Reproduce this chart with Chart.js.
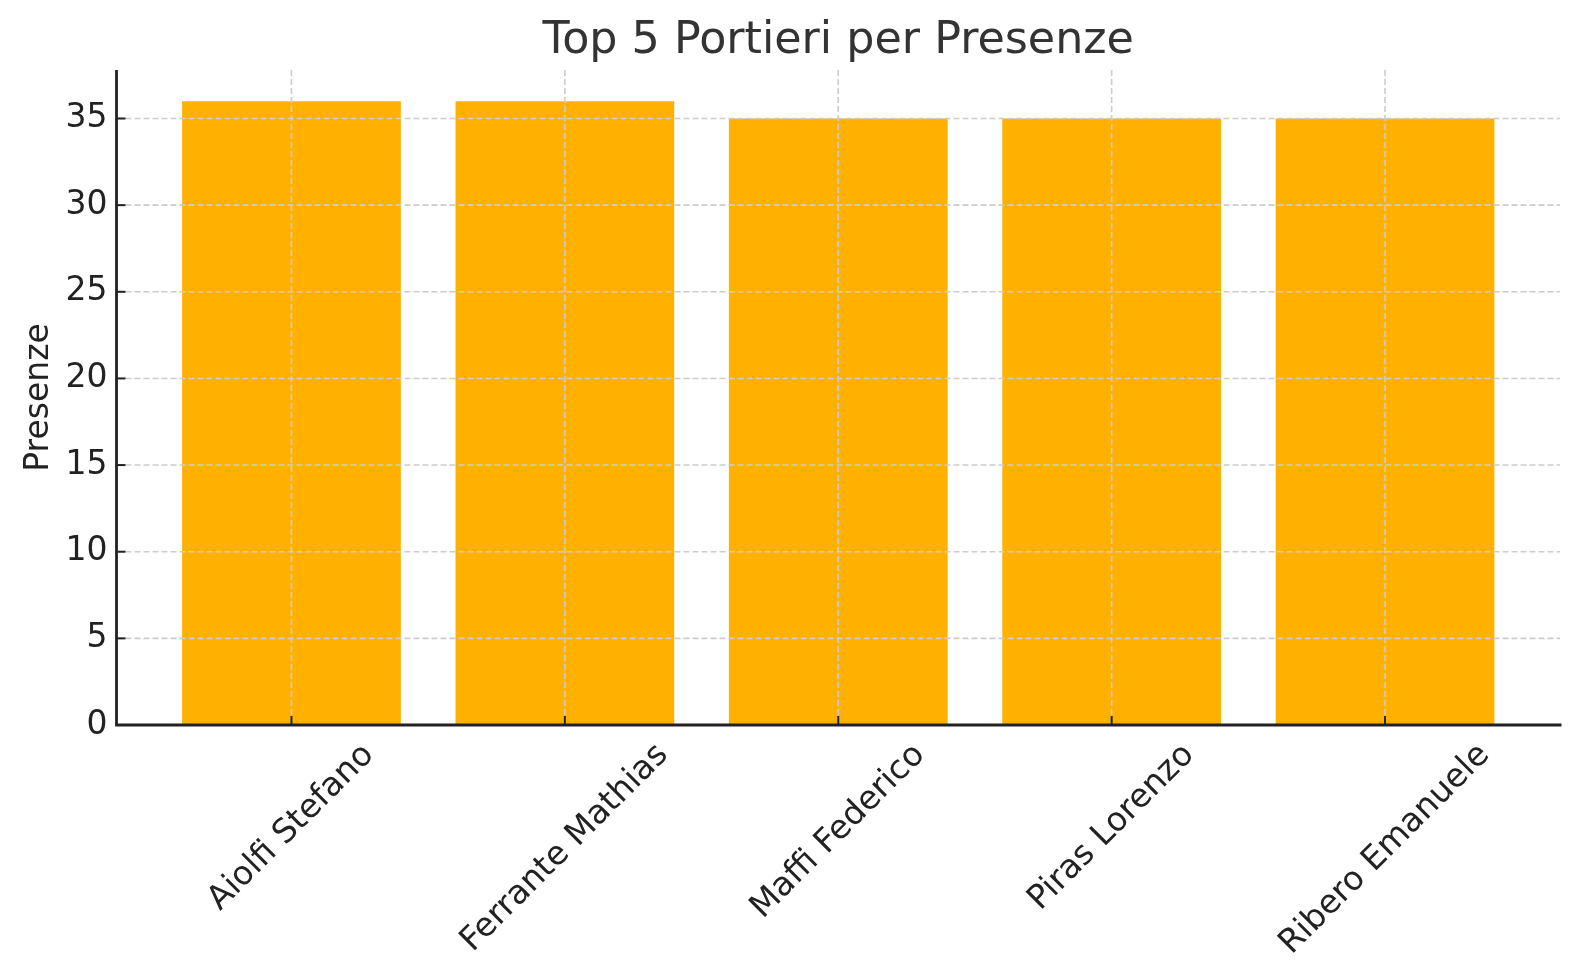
<!DOCTYPE html>
<html><head><meta charset="utf-8">
<script src="https://cdn.jsdelivr.net/npm/chart.js@4/dist/chart.umd.min.js"></script>
<style>html,body{margin:0;padding:0;background:#fff;overflow:hidden}canvas{display:block}</style>
</head><body>
<canvas id="c" width="1580" height="980"></canvas>
<script>
const categories = ["Aiolfi Stefano", "Ferrante Mathias", "Maffi Federico", "Piras Lorenzo", "Ribero Emanuele"];
const presenze = [36, 36, 35, 35, 35];
const yTicks = [0, 5, 10, 15, 20, 25, 30, 35];
const chartTitle = "Top 5 Portieri per Presenze";
const yAxisTitle = "Presenze";

const FONT = '"DejaVu Sans", sans-serif';
const LABEL_SIZE = 33;
const AXIS_COLOR = '#222222';

const canvas = document.getElementById('c');

const overlay = {
  id: 'overlay',
  afterDatasetsDraw(chart) {
    const {ctx, chartArea: a, scales: {x, y}} = chart;
    ctx.save();
    ctx.strokeStyle = '#cccccc';
    ctx.lineWidth = 1.6;
    ctx.setLineDash([6, 3]);
    categories.forEach((c, i) => {
      const px = x.getPixelForValue(i);
      ctx.beginPath(); ctx.moveTo(px, a.top); ctx.lineTo(px, a.bottom); ctx.stroke();
    });
    yTicks.forEach(v => {
      if (v === 0) return;
      const py = y.getPixelForValue(v);
      ctx.beginPath(); ctx.moveTo(a.left, py); ctx.lineTo(a.right, py); ctx.stroke();
    });
    ctx.restore();
  },
  afterDraw(chart) {
    const {ctx, chartArea: a, scales: {x, y}} = chart;
    ctx.save();
    ctx.strokeStyle = AXIS_COLOR;
    ctx.lineWidth = 2.8;
    ctx.beginPath();
    ctx.moveTo(a.left, a.top); ctx.lineTo(a.left, a.bottom); ctx.lineTo(a.right + 1.5, a.bottom);
    ctx.stroke();
    ctx.lineWidth = 2;
    categories.forEach((c, i) => {
      const px = x.getPixelForValue(i);
      ctx.beginPath(); ctx.moveTo(px, a.bottom); ctx.lineTo(px, a.bottom - 9); ctx.stroke();
    });
    yTicks.forEach(v => {
      const py = y.getPixelForValue(v);
      ctx.beginPath(); ctx.moveTo(a.left, py); ctx.lineTo(a.left + 9, py); ctx.stroke();
    });
    ctx.font = LABEL_SIZE + 'px ' + FONT;
    ctx.fillStyle = AXIS_COLOR;
    ctx.textAlign = 'center';
    ctx.textBaseline = 'middle';
    categories.forEach((c, i) => {
      const px = x.getPixelForValue(i);
      const w = ctx.measureText(c).width;
      const h = LABEL_SIZE * 0.76;
      const half = (w + h) * Math.SQRT1_2 / 2;
      ctx.save();
      ctx.translate(px, a.bottom + 16 + half);
      ctx.rotate(-Math.PI / 4);
      ctx.fillText(c, 0, 0);
      ctx.restore();
    });
    ctx.restore();
  }
};

new Chart(canvas, {
  type: 'bar',
  data: {
    datasets: [{
      label: yAxisTitle,
      data: presenze.map((v, i) => ({x: i, y: v})),
      backgroundColor: '#FFB000',
      borderWidth: 0,
      barPercentage: 0.8,
      categoryPercentage: 1.0
    }]
  },
  options: {
    responsive: false,
    animation: false,
    devicePixelRatio: 1,
    layout: {padding: {left: 0, right: 20, top: 0, bottom: 0}},
    plugins: {
      legend: {display: false},
      tooltip: {enabled: false},
      title: {
        display: true,
        fullSize: false,
        text: chartTitle,
        color: '#333333',
        font: {family: FONT, size: 44.4, weight: 'normal'},
        padding: {top: 15, bottom: 1.7}
      }
    },
    scales: {
      x: {
        type: 'linear',
        offset: false,
        min: -0.64,
        max: 4.64,
        afterBuildTicks: s => { s.ticks = categories.map((c, i) => ({value: i})); },
        ticks: {display: false},
        grid: {display: false, drawTicks: false, offset: false},
        border: {display: false},
        afterFit: s => { s.height = 255; }
      },
      y: {
        min: 0,
        max: 37.8,
        afterBuildTicks: s => { s.ticks = yTicks.map(v => ({value: v})); },
        ticks: {
          stepSize: 5,
          includeBounds: false,
          color: AXIS_COLOR,
          padding: 9,
          font: {family: FONT, size: LABEL_SIZE}
        },
        grid: {display: false, drawTicks: false},
        border: {display: false},
        title: {
          display: true,
          text: yAxisTitle,
          color: AXIS_COLOR,
          font: {family: FONT, size: LABEL_SIZE},
          padding: {top: 20, bottom: 0}
        },
        afterFit: s => { s.width = 116.5; }
      }
    }
  },
  plugins: [overlay]
});
</script>
</body></html>
